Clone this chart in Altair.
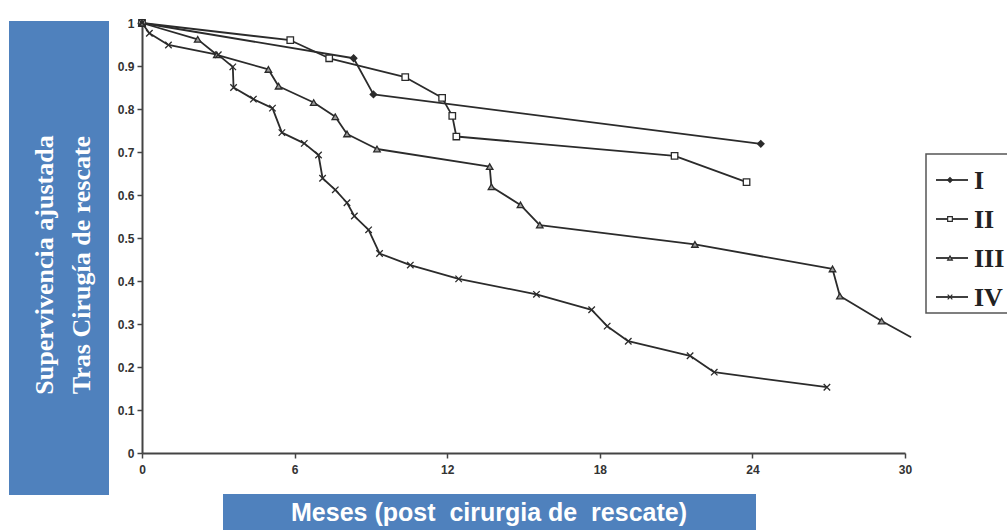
import altair as alt
import pandas as pd

# ---- data ----
series_names = ["I", "II", "III", "IV"]

m_I = [0, 8.32, 9.1, 24.33]
v_I = [1, 0.918, 0.834, 0.719]

m_II = [0, 5.83, 7.36, 10.35, 11.8, 12.2, 12.36, 20.94, 23.77]
v_II = [1, 0.96, 0.918, 0.874, 0.826, 0.784, 0.736, 0.691, 0.63]

m_III = [0, 2.19, 2.94, 4.97, 5.37, 6.75, 7.6, 8.06, 9.24, 13.67, 13.74, 14.88, 15.64,
         21.74, 27.15, 27.44, 29.08, 30.24]
v_III = [1, 0.962, 0.926, 0.892, 0.853, 0.815, 0.782, 0.742, 0.707, 0.666, 0.619, 0.577,
         0.53, 0.485, 0.428, 0.365, 0.307, 0.269]
mk_III = [True] * 17 + [False]

m_IV = [0, 0.29, 1.04, 3.0, 3.57, 3.6, 4.38, 5.13, 5.5, 6.38, 6.94, 7.1, 7.6, 8.06, 8.35,
        8.91, 9.34, 10.55, 12.45, 15.51, 17.68, 18.29, 19.12, 21.55, 22.5, 26.93]
v_IV = [1, 0.976, 0.949, 0.926, 0.898, 0.85, 0.823, 0.802, 0.745, 0.72, 0.693, 0.639,
        0.612, 0.582, 0.551, 0.519, 0.464, 0.437, 0.405, 0.369, 0.333, 0.295, 0.26,
        0.226, 0.188, 0.153]

x_ticks = [0, 6, 12, 18, 24, 30]
y_ticks = [0, 0.1, 0.2, 0.3, 0.4, 0.5, 0.6, 0.7, 0.8, 0.9, 1]

y_title_1 = "Supervivencia ajustada"
y_title_2 = "Tras Cirugía de rescate"
x_title = "Meses (post\u00a0 cirurgia de\u00a0 rescate)"

rows = []
for name, ms, vs, mks in [
    ("I", m_I, v_I, [True] * len(m_I)),
    ("II", m_II, v_II, [True] * len(m_II)),
    ("III", m_III, v_III, mk_III),
    ("IV", m_IV, v_IV, [True] * len(m_IV)),
]:
    for m, v, k in zip(ms, vs, mks):
        rows.append({"series": name, "m": m, "v": v, "mk": k})
df = pd.DataFrame(rows)
leg = pd.DataFrame({"series": series_names})
one = pd.DataFrame({"a": [0]})

SERIF = "Liberation Serif"
SANS = "Liberation Sans"
INK = "#2b2b2b"

shape_scale = alt.Scale(domain=series_names,
                        range=["diamond", "square", "triangle-up", "M-1,-1L1,1M1,-1L-1,1"])
fill_scale = alt.Scale(domain=series_names, range=[INK, "white", "#9a9a9a", "transparent"])

xenc = alt.X("m:Q", scale=alt.Scale(domain=[0, 30], nice=False, zero=False),
             axis=alt.Axis(values=x_ticks, title=None, grid=False, labelFont=SANS,
                           labelFontWeight="bold", labelFontSize=12, labelColor="#333",
                           domainColor="#444", domainWidth=2, tickColor="#444",
                           tickSize=5, tickWidth=1.5, labelPadding=6, labelFlush=False))
yenc = alt.Y("v:Q", scale=alt.Scale(domain=[0, 1], nice=False),
             axis=alt.Axis(values=y_ticks, format="~g", title=None, grid=False,
                           labelFont=SANS, labelFontWeight="bold", labelFontSize=12,
                           labelColor="#333", domainColor="#444", domainWidth=2,
                           tickColor="#444", tickSize=5, tickWidth=1.5, labelPadding=3))

lines = alt.Chart(df).mark_line(interpolate="linear", color=INK, strokeWidth=1.8,
                                strokeJoin="round").encode(
    x=xenc, y=yenc, detail="series:N", order="m:Q")

points = alt.Chart(df).transform_filter("datum.mk").mark_point(
    size=42, stroke=INK, strokeWidth=1.3, opacity=1, fillOpacity=1).encode(
    x=alt.X("m:Q"), y=alt.Y("v:Q"),
    shape=alt.Shape("series:N", scale=shape_scale, legend=None),
    fill=alt.Fill("series:N", scale=fill_scale, legend=None))

main = alt.layer(lines, points)

# decorations: blue title boxes
ybox = alt.Chart(one).mark_rect(color="#4f81bd").encode(
    x=alt.value(-133), x2=alt.value(-33), y=alt.value(-2), y2=alt.value(472))
yt1 = alt.Chart(one).mark_text(angle=270, font=SERIF, fontWeight="bold", fontSize=26,
                               color="white", align="center", baseline="middle").encode(
    x=alt.value(-97), y=alt.value(242), text=alt.value(y_title_1))
yt2 = alt.Chart(one).mark_text(angle=270, font=SERIF, fontWeight="bold", fontSize=26,
                               color="white", align="center", baseline="middle").encode(
    x=alt.value(-60), y=alt.value(242), text=alt.value(y_title_2))
xbox = alt.Chart(one).mark_rect(color="#4f81bd").encode(
    x=alt.value(81), x2=alt.value(614), y=alt.value(471), y2=alt.value(512))
xt = alt.Chart(one).mark_text(font=SANS, fontWeight="bold", fontSize=25, color="white",
                              align="center", baseline="middle").encode(
    x=alt.value(347), y=alt.value(490), text=alt.value(x_title))

# legend
lbox = alt.Chart(one).mark_rect(fill="white", stroke="#555", strokeWidth=1.5).encode(
    x=alt.value(784), x2=alt.value(890), y=alt.value(131), y2=alt.value(290))
ly = alt.Y("series:N", scale=alt.Scale(type="point", domain=series_names,
                                        range=[157, 274], padding=0), axis=None)
lrule = alt.Chart(leg).mark_rule(color=INK, strokeWidth=1.8).encode(
    x=alt.value(794), x2=alt.value(826), y=ly)
lpt = alt.Chart(leg).mark_point(size=22, stroke=INK, strokeWidth=1.2, opacity=1,
                                fillOpacity=1).encode(
    x=alt.value(808), y=ly,
    shape=alt.Shape("series:N", scale=shape_scale, legend=None),
    fill=alt.Fill("series:N", scale=fill_scale, legend=None))
ltxt = alt.Chart(leg).mark_text(font=SERIF, fontWeight="bold", fontSize=26, color="#222",
                                align="left", baseline="middle", dy=1).encode(
    x=alt.value(832), y=ly, text="series:N")
legend = alt.layer(lbox, lrule, lpt, ltxt)

deco = alt.layer(ybox, yt1, yt2, xbox, xt)

chart = alt.layer(deco, main, legend).resolve_scale(y="independent").properties(
    width=763, height=430,
    autosize=alt.AutoSizeParams(type="none"),
    padding={"left": 142, "top": 23, "right": 102, "bottom": 77},
    background="white",
).configure_view(stroke=None)

chart.save("out.html", embed_options={"renderer": "svg", "actions": False})
